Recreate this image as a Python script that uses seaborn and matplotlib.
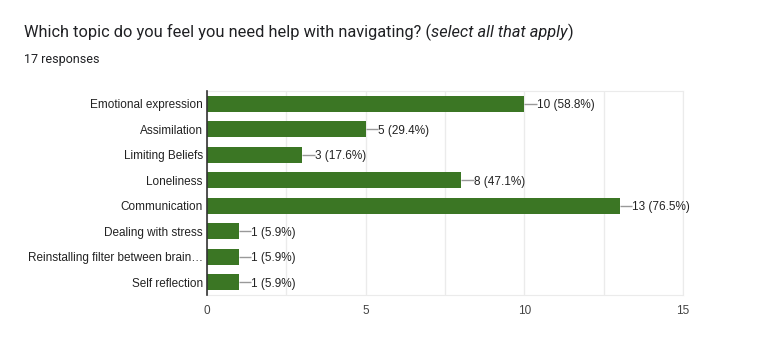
import numpy as np
import pandas as pd
import matplotlib.pyplot as plt
import seaborn as sns

# Survey data
topics = ['Emotional expression', 'Assimilation', 'Limiting Beliefs', 'Loneliness',
          'Communication', 'Dealing with stress', 'Reinstalling filter between brain\u2026',
          'Self reflection']
counts = [10, 5, 3, 8, 13, 1, 1, 1]
total = 17
x_ticks = [0, 5, 10, 15]

df = pd.DataFrame({'Topic': topics, 'Count': counts})

sns.set_style("white")
plt.rcParams['font.family'] = ['Liberation Sans', 'DejaVu Sans']

fig = plt.figure(figsize=(7.63, 3.51), dpi=100)
ax = fig.add_axes([0.2713, 0.1595, 0.6238, 0.5812])

sns.barplot(x='Count', y='Topic', data=df, color='#3b7624', width=0.63, ax=ax,
            saturation=1, linewidth=0, zorder=3)

ax.set_xlim(0, 15)
ax.set_ylim(len(topics) - 0.5, -0.5)
ax.set_xticks(x_ticks)
ax.set_xticks([2.5, 7.5, 12.5], minor=True)
ax.grid(True, axis='x', which='both', color='#ebebeb', linewidth=1, zorder=0)
ax.set_xlabel('')
ax.set_ylabel('')
ax.tick_params(axis='both', length=0)
ax.tick_params(axis='x', labelsize=8.5, labelcolor='#444444', pad=7)
ax.tick_params(axis='y', labelsize=8.5, labelcolor='#222222', pad=3)

for side in ['top', 'bottom', 'right']:
    ax.spines[side].set_color('#ebebeb')
ax.spines['left'].set_color('#333333')
ax.spines['left'].set_linewidth(1.2)
ax.spines['left'].set_zorder(4)

# Value labels with short leader lines
vals = np.array(counts)
ypos = np.arange(len(counts))
ax.hlines(ypos, vals, vals + 0.4, color='#999999', lw=1, zorder=3)
for i, c in enumerate(counts):
    ax.text(c + 0.4, i, f'{c} ({c / total * 100:.1f}%)', va='center_baseline',
            ha='left', fontsize=8.5, color='#222222')

fig.text(24 / 763, 1 - 32 / 351, 'Which topic do you feel you need help with navigating? (',
         fontsize=11.8, family='Roboto', color='#202124', va='center', ha='left')
t1 = fig.texts[-1]
fig.canvas.draw()
bb = t1.get_window_extent()
t2 = fig.text(bb.x1 / 763, 1 - 32 / 351, 'select all that apply',
              fontsize=11.8, family='Roboto', style='italic', color='#202124',
              va='center', ha='left')
fig.canvas.draw()
bb2 = t2.get_window_extent()
fig.text(bb2.x1 / 763, 1 - 32 / 351, ')', fontsize=11.8, family='Roboto',
         color='#202124', va='center', ha='left')
fig.text(24 / 763, 1 - 60 / 351, f'{total} responses', fontsize=9, family='Roboto',
         color='#202124', va='center', ha='left')

fig.savefig('out.png', dpi=100)
